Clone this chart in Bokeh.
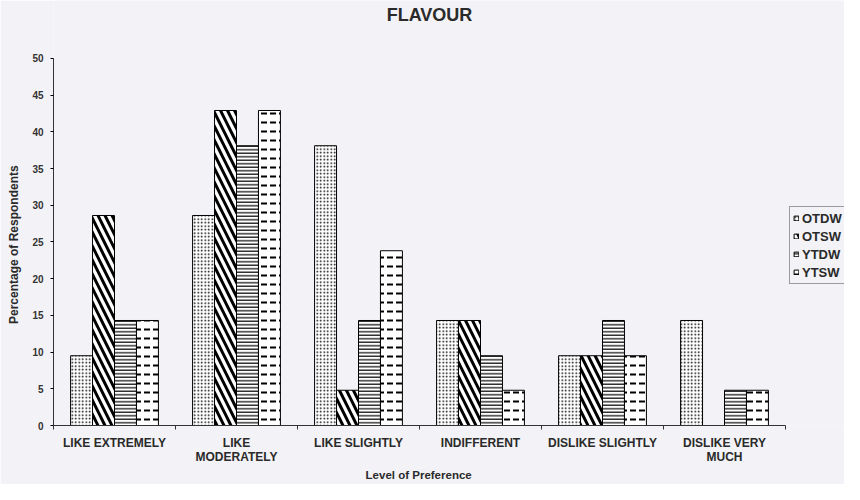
from bokeh.plotting import figure
from bokeh.models import ColumnDataSource, FixedTicker, Range1d, Legend, LegendItem, Label
from bokeh.transform import dodge
from bokeh.embed import file_html
from bokeh.resources import INLINE

categories = ["LIKE EXTREMELY", "LIKE\nMODERATELY", "LIKE SLIGHTLY", "INDIFFERENT",
              "DISLIKE SLIGHTLY", "DISLIKE VERY\nMUCH"]
series_names = ["OTDW", "OTSW", "YTDW", "YTSW"]
OTDW = [9.5, 28.6, 38.1, 14.3, 9.5, 14.3]
OTSW = [28.6, 42.9, 4.8, 14.3, 9.5, 0.0]
YTDW = [14.3, 38.1, 14.3, 9.5, 14.3, 4.8]
YTSW = [14.3, 42.9, 23.8, 4.8, 9.5, 4.8]
y_ticks = [0, 5, 10, 15, 20, 25, 30, 35, 40, 45, 50]
y_max = 50
title_text = "FLAVOUR"
x_title = "Level of Preference"
y_title = "Percentage of Respondents"

centers = [i + 0.5 for i in range(len(categories))]
bounds = [float(i) for i in range(len(categories) + 1)]

src = ColumnDataSource(dict(x=centers, OTDW=OTDW, OTSW=OTSW, YTDW=YTDW, YTSW=YTSW))

BG = "#f3f2f6"
FONT = "Liberation Sans"
TXT = "#2a2a2a"
NBSP = "\u00a0"

# layout (pixels)
W, H = 844, 484
LEFT, BOTTOM = 53, 58
AXIS_TOP_PX = 58          # where y = 50 sits
AXIS_RIGHT_PX = 785       # where the x axis ends
frame_w = W - LEFT
frame_h = H - BOTTOM
n = len(categories)
x_end = n * frame_w / (AXIS_RIGHT_PX - LEFT)
y_end = y_max * frame_h / (frame_h - AXIS_TOP_PX)

p = figure(width=W, height=H, output_backend="svg", toolbar_location=None,
           x_range=Range1d(0, x_end), y_range=Range1d(0, y_end),
           min_border_left=LEFT, min_border_right=0, min_border_top=0, min_border_bottom=BOTTOM,
           background_fill_color=BG, border_fill_color=BG, outline_line_color=None)

p.xgrid.grid_line_color = None
p.ygrid.grid_line_color = None

styles = [
    dict(hatch_pattern="dot", hatch_scale=3.5, hatch_weight=1.0),
    dict(hatch_pattern="left_diagonal_line", hatch_scale=14, hatch_weight=3.0),
    dict(hatch_pattern="horizontal_line", hatch_scale=3.5, hatch_weight=1.2),
    dict(hatch_pattern="horizontal_dash", hatch_scale=9, hatch_weight=2.0),
]
offsets = [-0.27, -0.09, 0.09, 0.27]
items = []
for name, off, st in zip(series_names, offsets, styles):
    r = p.vbar(x=dodge("x", off, range=p.x_range), top=name, width=0.18, bottom=0,
               source=src, fill_color="white", line_color="black", line_width=1,
               hatch_color="black", **st)
    items.append(LegendItem(label=name, renderers=[r]))

legend = Legend(items=items, location=(789 - LEFT, frame_h - 285), orientation="vertical",
                background_fill_color=BG, background_fill_alpha=1.0,
                border_line_color="#444444", border_line_width=1,
                label_text_font=FONT, label_text_font_size="13px",
                label_text_font_style="bold", label_text_color=TXT,
                glyph_width=6, glyph_height=6, label_height=16, spacing=2,
                padding=3, margin=0, label_standoff=3)
p.add_layout(legend, "center")

title = Label(x=429 - LEFT, y=frame_h - 15.5, x_units="screen", y_units="screen",
              text=title_text, text_align="center", text_baseline="middle",
              text_font=FONT, text_font_size="18px", text_font_style="bold", text_color=TXT)
p.add_layout(title)

# x axis
p.xaxis.bounds = (0, n)
p.xaxis.ticker = FixedTicker(ticks=centers, minor_ticks=bounds)
p.xaxis.major_label_overrides = {c: lab for c, lab in zip(centers, categories)}
p.xaxis.major_tick_line_color = None
p.xaxis.major_tick_out = 0
p.xaxis.major_tick_in = 0
p.xaxis.minor_tick_out = 4
p.xaxis.minor_tick_in = 0
p.xaxis.minor_tick_line_color = "#333333"
p.xaxis.major_label_standoff = 6
p.xaxis.major_label_text_font = FONT
p.xaxis.major_label_text_font_size = "12px"
p.xaxis.major_label_text_font_style = "bold"
p.xaxis.major_label_text_line_height = 1.05
p.xaxis.major_label_text_color = TXT
# trailing no-break spaces shift the centred label to the middle of the axis line
p.xaxis.axis_label = x_title + NBSP * 19
p.xaxis.axis_label_text_font = FONT
p.xaxis.axis_label_text_font_size = "11.5px"
p.xaxis.axis_label_text_font_style = "bold"
p.xaxis.axis_label_text_line_height = 1.0
p.xaxis.axis_label_text_color = TXT
p.xaxis.axis_label_standoff = 2
p.xaxis.axis_line_color = "#333333"

# y axis
p.yaxis.bounds = (0, y_max)
p.yaxis.ticker = FixedTicker(ticks=y_ticks)
p.yaxis.major_tick_out = 3
p.yaxis.major_tick_in = 0
p.yaxis.minor_tick_line_color = None
p.yaxis.major_label_standoff = 7
p.yaxis.major_label_text_font = FONT
p.yaxis.major_label_text_font_size = "10px"
p.yaxis.major_label_text_font_style = "bold"
p.yaxis.major_label_text_color = "#333333"
p.yaxis.axis_label = y_title + NBSP * 19
p.yaxis.axis_label_text_font = FONT
p.yaxis.axis_label_text_font_size = "12px"
p.yaxis.axis_label_text_font_style = "bold"
p.yaxis.axis_label_text_color = TXT
p.yaxis.axis_label_standoff = 8
p.yaxis.axis_line_color = "#333333"

open("out.html", "w").write(file_html(p, INLINE))
